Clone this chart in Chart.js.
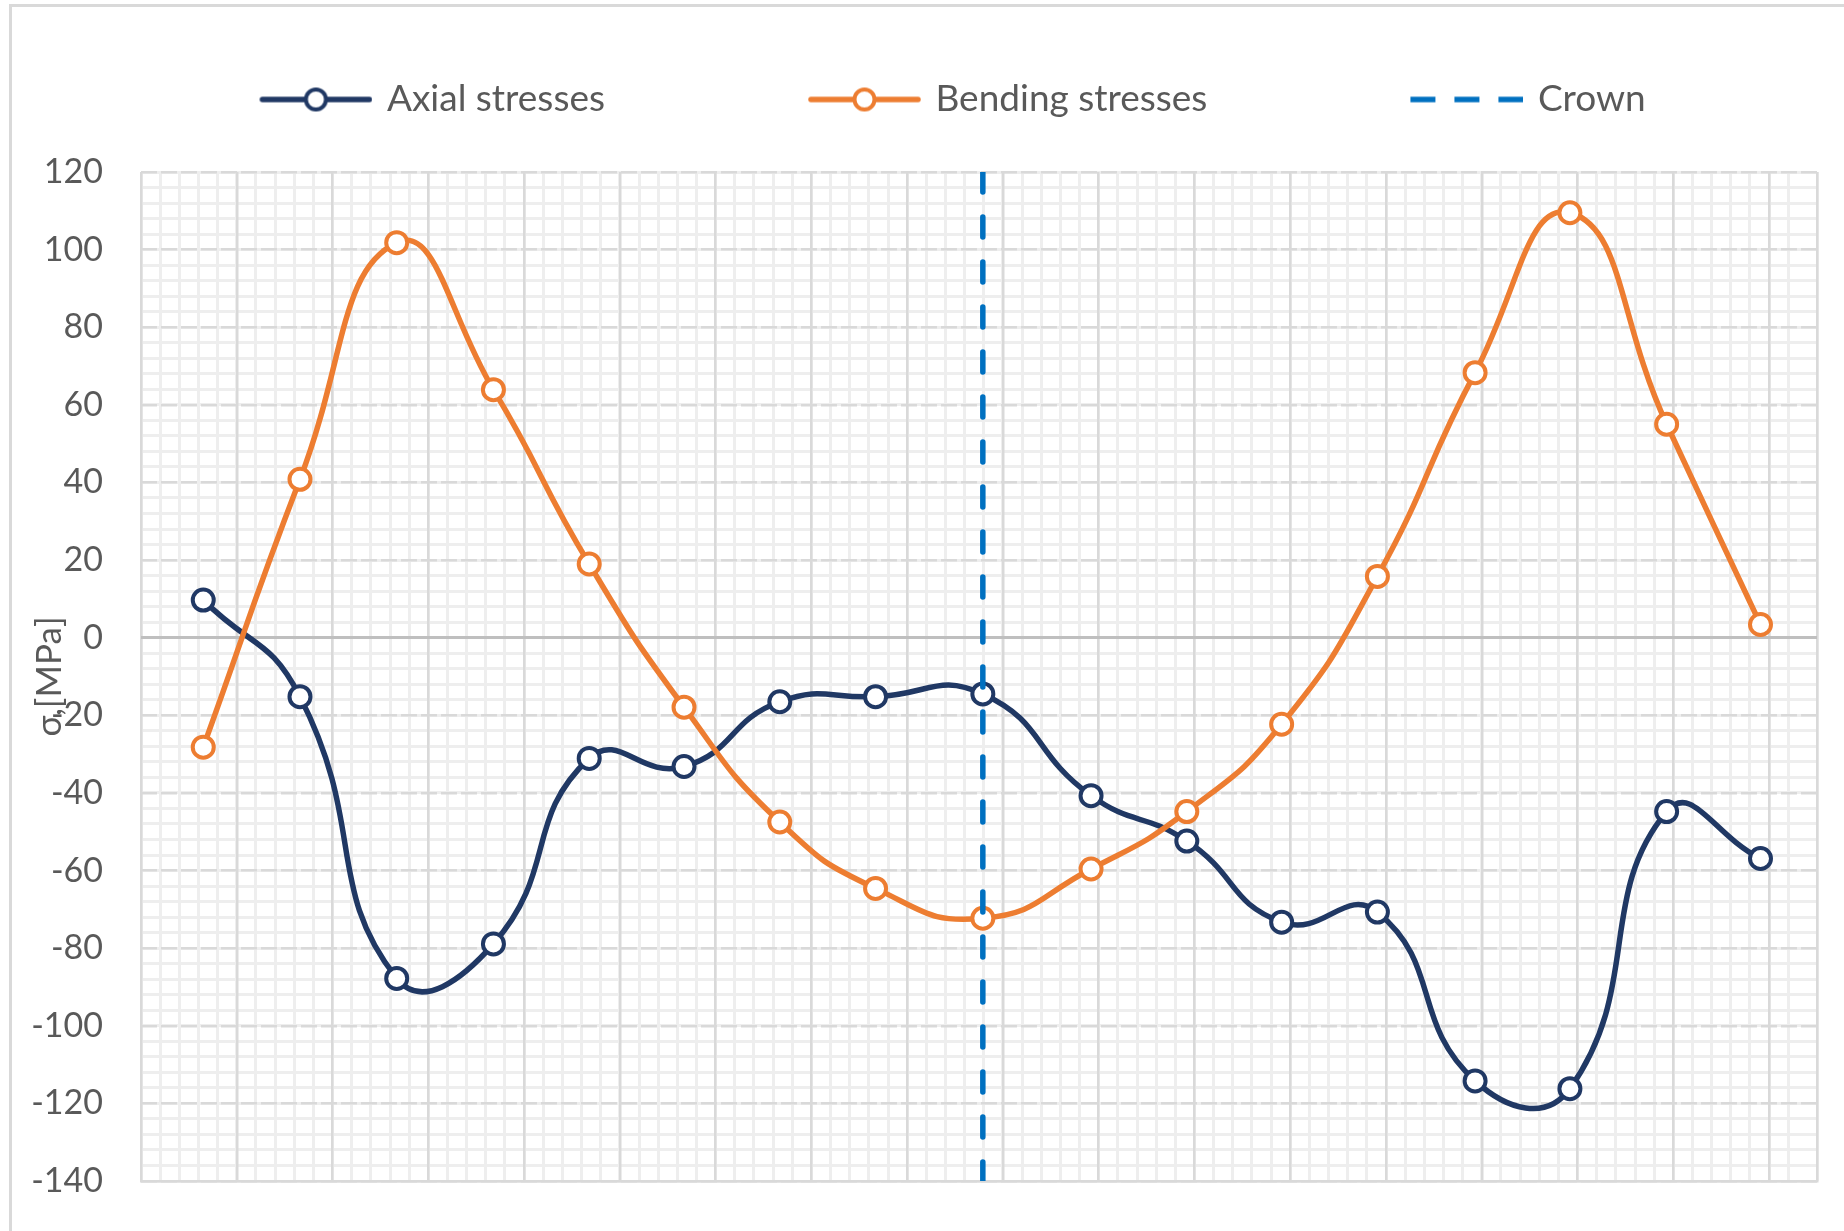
<!DOCTYPE html>
<html>
<head>
<meta charset="utf-8">
<script src="https://cdn.jsdelivr.net/npm/chart.js@4.4.1/dist/chart.umd.min.js"></script>
<style>
  html, body { margin: 0; padding: 0; background: #fff; }
  #wrap { position: relative; width: 1844px; height: 1231px; overflow: hidden; }
  #frame { position: absolute; left: 9px; top: 4px; width: 1840px; height: 1230px;
           border: 3px solid #d9d9d9; box-sizing: border-box; pointer-events: none; }
  canvas { position: absolute; left: 0; top: 0; }
</style>
</head>
<body>
<div id="wrap">
  <canvas id="chart" width="1844" height="1231"></canvas>
  <div id="frame"></div>
</div>
<script>
// values
const positions = [0.65, 1.66, 2.67, 3.68, 4.68, 5.67, 6.67, 7.67, 8.79, 9.92, 10.92, 11.91, 12.91, 13.93, 14.92, 15.93, 16.91];
const axialStresses = [9.7, -15.2, -87.8, -78.9, -31.1, -33.2, -16.5, -15.2, -14.5, -40.7, -52.4, -73.3, -70.7, -114.2, -116.2, -44.8, -56.9];
const bendingStresses = [-28.2, 40.8, 101.8, 63.9, 19.0, -17.9, -47.5, -64.6, -72.3, -59.6, -44.8, -22.3, 15.8, 68.3, 109.5, 55.0, 3.4];
const crownX = 8.79;
const crownY = [120, -140];
const yMin = -140, yMax = 120, yStep = 20, yMinorStep = 4;
const xMin = 0, xMax = 17.5, xStep = 1, xMinorStep = 0.2;

const seriesNames = ['Axial stresses', 'Bending stresses', 'Crown'];
const NAVY = '#203864';
const ORANGE = '#ED7D31';
const BLUE = '#0070C0';
const TEXT = '#595959';

const toPoints = (xs, ys) => xs.map((x, i) => ({ x: x, y: ys[i] }));

// legend pictures: line (+ marker), sitting at the right end of the box
const BOX_W = 185;      // legend box width
const SAMPLE_W = 113;   // visible line length
const OVERHANG = 4;     // how far the picture pokes out of the box on each side
function legendSample(color, dashed) {
    const c = document.createElement('canvas');
    c.width = BOX_W + 2 * OVERHANG; c.height = 32;
    const g = c.getContext('2d');
    const x1 = c.width, x0 = x1 - SAMPLE_W, y = 16;
    g.strokeStyle = color;
    g.lineWidth = 5.5;
    if (dashed) {
        g.setLineDash([25, 19]);
        g.beginPath(); g.moveTo(x0, y); g.lineTo(x1, y); g.stroke();
    } else {
        g.lineCap = 'round';
        g.beginPath(); g.moveTo(x0 + 3, y); g.lineTo(x1 - 3, y); g.stroke();
        g.beginPath();
        g.arc((x0 + x1) / 2, y, 10, 0, Math.PI * 2);
        g.fillStyle = '#fff';
        g.fill();
        g.lineWidth = 4;
        g.stroke();
    }
    return c;
}
const samples = [legendSample(NAVY, false), legendSample(ORANGE, false), legendSample(BLUE, true)];

const LEGEND_PAD = 127;
const LEGEND_TOP = -46, LEGEND_H = 218;

const legendSize = {
    id: 'legendSize',
    afterInit(chart) {
        const lg = chart.legend;
        const fit = lg.fit;
        lg.fit = function () { fit.call(this); this.height = LEGEND_H; };
    }
};

function stressSeries(label, values, color, order) {
    return {
        label: label,
        data: toPoints(positions, values),
        showLine: true,
        borderColor: color,
        borderWidth: 5.5,
        tension: 0.5,
        pointRadius: 10.5,
        pointBorderWidth: 4,
        pointBackgroundColor: '#fff',
        pointBorderColor: color,
        order: order
    };
}

new Chart(document.getElementById('chart'), {
    type: 'scatter',
    data: {
        datasets: [
            stressSeries(seriesNames[0], axialStresses, NAVY, 3),
            stressSeries(seriesNames[1], bendingStresses, ORANGE, 2),
            {
                label: seriesNames[2],
                data: crownY.map(y => ({ x: crownX, y: y })),
                showLine: true,
                borderColor: BLUE,
                borderWidth: 5.5,
                borderDash: [20, 25],
                borderCapStyle: 'round',
                pointRadius: 0,
                order: 1
            }
        ]
    },
    options: {
        responsive: false,
        animation: false,
        layout: { padding: { top: LEGEND_TOP, left: 12, right: 27, bottom: 50 } },
        plugins: {
            tooltip: { enabled: false },
            legend: {
                position: 'top',
                labels: {
                    color: TEXT,
                    font: { family: 'Lato', size: 37 },
                    usePointStyle: true,
                    pointStyleWidth: BOX_W,
                    padding: LEGEND_PAD,
                    sort: (a, b) => a.datasetIndex - b.datasetIndex,
                    generateLabels: chart =>
                        Chart.defaults.plugins.legend.labels.generateLabels(chart).map(item => {
                            item.pointStyle = samples[item.datasetIndex];
                            return item;
                        })
                }
            }
        },
        scales: {
            xMinor: {
                type: 'linear', position: 'bottom', min: xMin, max: xMax,
                ticks: { display: false, stepSize: xMinorStep, maxTicksLimit: 1000, autoSkip: false },
                grid: { color: '#eeeeee', lineWidth: 3, drawTicks: false, z: -3 },
                border: { display: false },
                afterFit: s => { s.height = 0; }
            },
            yMinor: {
                type: 'linear', position: 'left', min: yMin, max: yMax,
                ticks: { display: false, stepSize: yMinorStep, maxTicksLimit: 1000, autoSkip: false },
                grid: { color: '#eeeeee', lineWidth: 3, drawTicks: false, z: -3 },
                border: { display: false },
                afterFit: s => { s.width = 0; }
            },
            x: {
                type: 'linear', position: 'bottom', min: xMin, max: xMax,
                ticks: { display: false, stepSize: xStep },
                grid: { color: '#d9d9d9', lineWidth: 2.5, drawTicks: false, z: -2 },
                border: { display: true, color: '#d9d9d9', width: 2.5 },
                afterFit: s => { s.height = 0; }
            },
            y: {
                type: 'linear', position: 'left', min: yMin, max: yMax,
                ticks: { stepSize: yStep, color: TEXT, padding: 38, font: { family: 'Lato', size: 34 } },
                grid: { color: '#d9d9d9', lineWidth: 2.5, drawTicks: false, z: -2 },
                border: { display: false, dash: [16, 4] },
                title: {
                    display: true, text: 'σ,[MPa]', color: TEXT,
                    font: { family: 'Lato', size: 35 }, padding: { top: 17, bottom: 0 }
                },
                // fixed width; the tick padding must not push the plot bottom up
                afterFit: s => { s.width = 129; s.paddingTop = 20; s.paddingBottom = 20; }
            },
            yZero: {
                type: 'linear', position: 'left', min: yMin, max: yMax,
                ticks: { display: false },
                afterBuildTicks: s => { s.ticks = [{ value: 0 }]; },
                grid: { color: '#bfbfbf', lineWidth: 3, drawTicks: false, z: -1 },
                border: { display: false },
                afterFit: s => { s.width = 0; }
            }
        }
    },
    plugins: [legendSize]
});
</script>
</body>
</html>
